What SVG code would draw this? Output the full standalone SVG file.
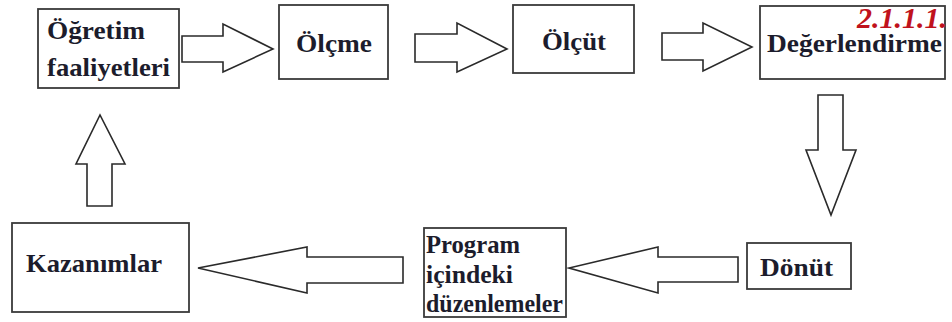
<svg xmlns="http://www.w3.org/2000/svg" width="952" height="322" viewBox="0 0 952 322">
<style>
.box{fill:#fff;stroke:#3a3a3a;stroke-width:1.8}
.t{font-family:"Liberation Serif","DejaVu Serif",serif;font-weight:bold;font-size:25px;fill:#1c1c2c}
.arr{fill:#fff;stroke:#2a2a2a;stroke-width:1.6;stroke-linejoin:miter}
.num{font-family:"Liberation Serif","DejaVu Serif",serif;font-weight:bold;font-style:italic;font-size:30px;fill:#c0121c}
</style>
<rect width="952" height="322" fill="#fff"/>
<g id="connectors">
<polygon class="arr" points="182,36 223,36 223,24 273,49 223,72 223,62 182,62"/>
<polygon class="arr" points="415,34 457,34 457,23 507,49 457,72 457,62 415,62"/>
<polygon class="arr" points="662,33 703,33 703,23 752,47 703,71 703,60 662,60"/>
<polygon class="arr" points="818,95 843,95 843,150 856,150 831,215 806,150 818,150"/>
<polygon class="arr" points="738,257 738,282 658,282 658,293 569,268 658,247 658,257"/>
<polygon class="arr" points="403,257 403,283 307,283 307,293 198,268 307,247 307,257"/>
<polygon class="arr" points="87,206 112,206 112,164 125,164 100,115 76,164 87,164"/>
</g>
<g id="n1">
<rect class="box" x="38" y="9" width="141" height="79"/>
<text class="t" x="47" y="39" textLength="98" lengthAdjust="spacingAndGlyphs">Öğretim</text>
<text class="t" x="47" y="76" textLength="123" lengthAdjust="spacingAndGlyphs">faaliyetleri</text>
</g>
<g id="n2">
<rect class="box" x="279" y="5" width="109" height="74"/>
<text class="t" x="296" y="52" textLength="76" lengthAdjust="spacingAndGlyphs">Ölçme</text>
</g>
<g id="n3">
<rect class="box" x="513" y="5" width="121" height="68"/>
<text class="t" x="542" y="50" textLength="64" lengthAdjust="spacingAndGlyphs">Ölçüt</text>
</g>
<g id="n4">
<rect class="box" x="760" y="6" width="185" height="73"/>
<text class="t" x="767" y="52" textLength="175" lengthAdjust="spacingAndGlyphs">Değerlendirme</text>
</g>
<text class="num" x="857" y="28">2.1.1.1.</text>
<g id="n5">
<rect class="box" x="747" y="243" width="104" height="46"/>
<text class="t" x="760" y="276" textLength="73" lengthAdjust="spacingAndGlyphs">Dönüt</text>
</g>
<g id="n6">
<rect class="box" x="424" y="228" width="142" height="89"/>
<text class="t" x="426" y="253" textLength="94" lengthAdjust="spacingAndGlyphs">Program</text>
<text class="t" x="426" y="283" textLength="87" lengthAdjust="spacingAndGlyphs">içindeki</text>
<text class="t" x="426" y="312" textLength="137" lengthAdjust="spacingAndGlyphs">düzenlemeler</text>
</g>
<g id="n7">
<rect class="box" x="12" y="223" width="177" height="89"/>
<text class="t" x="26" y="272" textLength="136" lengthAdjust="spacingAndGlyphs">Kazanımlar</text>
</g>
</svg>
